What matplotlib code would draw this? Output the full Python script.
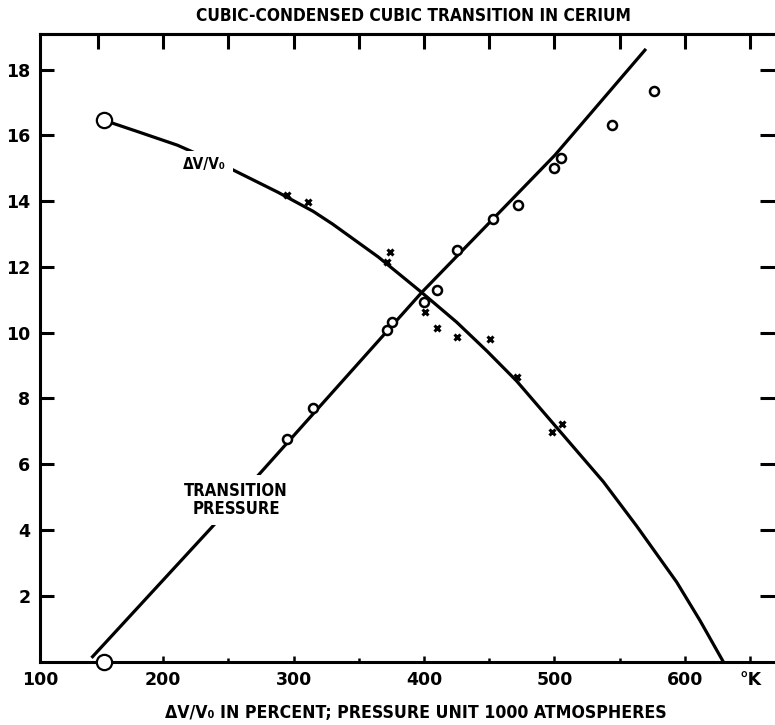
import matplotlib.pyplot as plt

# transition pressure measurements (open circles), temperature in K
p_temp = [295, 315, 372, 375.5, 400, 410, 425, 453, 472, 500, 505, 544, 576]
p_val = [6.77, 7.71, 10.08, 10.32, 10.93, 11.29, 12.51, 13.45, 13.88, 15.0, 15.31, 16.31, 17.34]

# volume change measurements (crosses)
v_temp = [295, 311, 374, 371.6, 400.8, 409.7, 425, 450.6, 471.5, 497.8, 506]
v_val = [14.18, 13.97, 12.45, 12.15, 10.64, 10.13, 9.88, 9.8, 8.64, 6.99, 7.22]

# hand drawn curves
p_curve_t = [146, 237.5, 398.4, 500.4, 569.3]
p_curve_y = [0.15, 4.09, 11.23, 15.4, 18.59]
v_curve_t = [154.5, 180, 211, 251, 288, 315, 330, 365, 398, 425, 448, 471, 496.6,
             537.4, 563, 593.6, 611.5, 629.3]
v_curve_y = [16.46, 16.12, 15.70, 15.0, 14.27, 13.69, 13.30, 12.30, 11.23, 10.32, 9.45, 8.53, 7.35,
             5.47, 4.12, 2.42, 1.25, 0.0]

# end points (large circles)
end_t = [154.5, 154.5]
end_y = [16.46, 0.0]

x_ticks = [105.7, 200, 300, 400, 500, 600, 650]
x_labels = ["100", "200", "300", "400", "500", "600", "°K"]
x_minor = [150, 250, 350, 450, 550]
top_ticks = [150, 200, 250, 300, 350, 400, 450, 500, 550, 600, 650]
y_ticks = [2, 4, 6, 8, 10, 12, 14, 16, 18]

fig = plt.figure(figsize=(7.75, 7.25), dpi=100)
ax = fig.add_axes([40 / 775, 1 - 661.6 / 725, 735 / 775, 627.6 / 725])

ax.plot(p_curve_t, p_curve_y, color="black", lw=2.3, zorder=2)
ax.plot(v_curve_t, v_curve_y, color="black", lw=2.3, zorder=2)
ax.plot(p_temp, p_val, "o", ms=6.5, mfc="white", mec="black", mew=1.8, zorder=3)
ax.plot(v_temp, v_val, "x", ms=5, mec="black", mew=2.2, zorder=3)
ax.plot(end_t, end_y, "o", ms=11, mfc="white", mec="black", mew=1.6, zorder=4, clip_on=False)

ax.text(232, 15.1, "ΔV/V₀", fontsize=11, fontweight="bold", fontstretch="condensed",
        ha="center", va="center", zorder=3,
        bbox=dict(fc="white", ec="none", pad=5))
ax.text(256, 4.91, "TRANSITION\nPRESSURE", fontsize=12, fontweight="bold", fontstretch="condensed",
        ha="center", va="center", linespacing=0.95, zorder=3,
        bbox=dict(fc="white", ec="none", pad=5))

ax.set_xlim(105.7, 669)
ax.set_ylim(0, 19.08)

ax.set_xticks(x_ticks)
ax.set_xticklabels(x_labels)
ax.set_xticks(x_minor, minor=True)
ax.set_yticks(y_ticks)

ax.tick_params(axis="x", which="major", direction="in", length=4.5, width=1.8, pad=7)
ax.tick_params(axis="x", which="minor", direction="in", length=3, width=1.8)
ax.tick_params(axis="y", direction="in", length=10, width=2.2, pad=7)
for lab in ax.get_xticklabels() + ax.get_yticklabels():
    lab.set_fontweight("bold")
    lab.set_fontsize(12.5)

top = ax.secondary_xaxis("top")
top.set_xticks(top_ticks)
top.tick_params(direction="in", length=11, width=2.2, labeltop=False)
top.spines["top"].set_linewidth(2.2)

right = ax.secondary_yaxis("right")
right.set_yticks(y_ticks)
right.tick_params(direction="in", length=11, width=2.2, labelright=False)
right.spines["right"].set_visible(False)

ax.spines["right"].set_visible(False)
for s in ["left", "bottom", "top"]:
    ax.spines[s].set_linewidth(2.2)

fig.text(413 / 775, 1 - 16 / 725, "CUBIC-CONDENSED CUBIC TRANSITION IN CERIUM",
         ha="center", va="center", fontsize=12.4, fontweight="bold", fontstretch="condensed")
fig.text(416 / 775, 1 - 713 / 725, "ΔV/V₀ IN PERCENT; PRESSURE UNIT 1000 ATMOSPHERES",
         ha="center", va="center", fontsize=12.7, fontweight="bold", fontstretch="condensed")

fig.savefig("out.png", dpi=100)
